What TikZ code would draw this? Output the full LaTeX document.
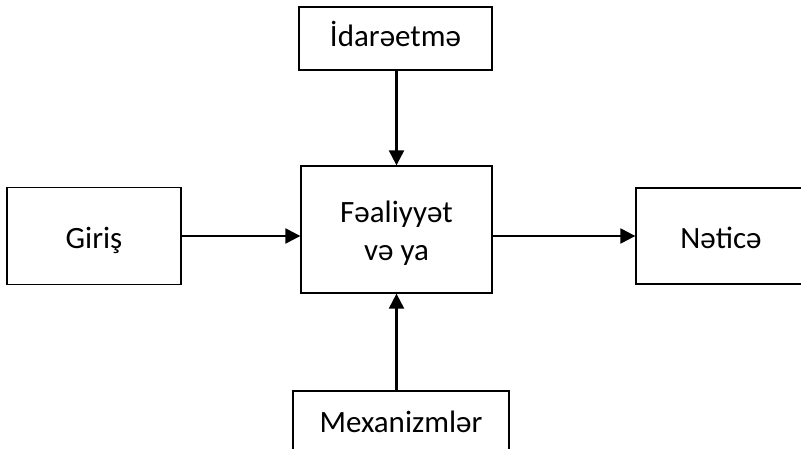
\documentclass[tikz,border=0pt]{standalone}
\usepackage{fontspec}
\setmainfont{Carlito}
\usetikzlibrary{arrows.meta}
\begin{document}
\begin{tikzpicture}[x=1pt,y=-1pt,
  txt/.style={font=\fontsize{31}{38}\selectfont,align=center},
  box/.style={draw=black,line width=1.3pt,fill=white,rectangle,inner sep=0pt,txt},
  arr/.style={line width=2.2pt,-{Triangle[length=15pt,width=15pt]}}]
\useasboundingbox (0,0) rectangle (801,449);
\clip (0,0) rectangle (801,449);
% blocks; text height/depth place each baseline inside its box
\node[box,minimum width=193pt,minimum height=63pt,text height=16pt,text depth=0pt] (ctrl) at (395.5,38.5) {İdarəetmə};
\node[box,minimum width=191pt,minimum height=127pt,
  label={[txt,yshift=-4pt]center:Fəaliyyət\\və ya}] (act) at (396.5,229.5) {};
\node[box,minimum width=174pt,minimum height=97pt,text height=25pt,text depth=0pt] (inp) at (94,236) {Giriş};
\node[box,minimum width=170pt,minimum height=96pt,text height=26pt,text depth=0pt] (res) at (721,236) {Nəticə};
\node[box,minimum width=216pt,minimum height=62pt,text height=20pt,text depth=0pt] (mech) at (401,422) {Mexanizmlər};
% connectors
\draw[arr] (ctrl.south -| act.north) -- (act.north);
\draw[arr] (inp.east) -- (inp.east -| act.west);
\draw[arr] (act.east |- res.west) -- (res.west);
\draw[arr] (act.south |- mech.north) -- (act.south);
\end{tikzpicture}
\end{document}
